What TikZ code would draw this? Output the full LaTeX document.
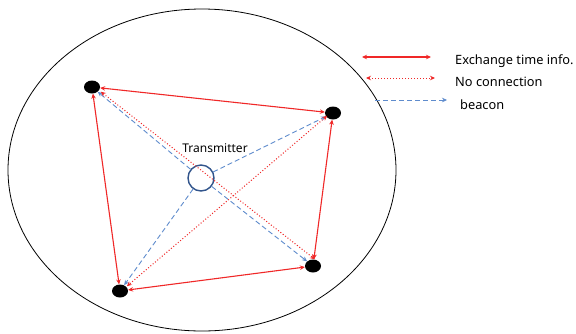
\documentclass[tikz,border=0pt]{standalone}
\usepackage{fontspec}
\setmainfont{Noto Sans}
\usetikzlibrary{shapes.geometric,arrows.meta}
\definecolor{lred}{RGB}{240,40,40}
\definecolor{lblue}{RGB}{95,140,205}
\definecolor{dblue}{RGB}{50,85,140}
\tikzset{
  dot/.style={ellipse,fill=black,minimum width=16pt,minimum height=13pt,inner sep=0pt},
  exch/.style={draw=lred,line width=1.1pt,{Stealth[length=5pt,width=4.5pt]}-{Stealth[length=5pt,width=4.5pt]}},
  nocon/.style={draw=lred,line width=1pt,dotted,{Stealth[length=5pt,width=4.5pt]}-{Stealth[length=5pt,width=4.5pt]}},
  beacon/.style={draw=lblue,line width=0.9pt,dash pattern=on 5pt off 3pt,-{Stealth[length=5pt,width=4.5pt]}},
  lbl/.style={font=\fontsize{12.8}{15}\selectfont,anchor=west,inner sep=0pt}
}
\begin{document}
\begin{tikzpicture}[x=1pt,y=-1pt]
\useasboundingbox (0,0) rectangle (576,333);
\fill[white] (0,0) rectangle (576,333);
\begin{scope}
\clip (0,0) rectangle (576,333);
\draw[line width=0.8pt] (202,170) ellipse [x radius=194, y radius=161];
\end{scope}
\node[dot] (A) at (92,87) {};
\node[dot] (B) at (333,113) {};
\node[dot] (C) at (313,266) {};
\node[dot] (D) at (120,291) {};
\node[circle,draw=dblue,line width=1.4pt,minimum size=26pt,inner sep=0pt] (T) at (201,178) {};
\node[inner sep=0pt,font=\fontsize{12}{14}\selectfont] (TL) at (215,148) {Transmitter};
% beacons
\draw[beacon] (T) -- (A);
\draw[beacon] (T) -- (B);
\draw[beacon] (T) -- (C);
\draw[beacon] (T) -- (D);
% no connection
\draw[nocon] ([xshift=3pt]A.south east) -- ([xshift=2pt]C.north);
\draw[nocon] ([yshift=2pt]B.south west) -- ([xshift=1pt]D.north east);
% exchange
\draw[exch] (A) -- (B);
\draw[exch] (B) -- (C);
\draw[exch] (C) -- (D);
\draw[exch] (D) -- (A);
% legend
\coordinate (l1a) at (362,57); \coordinate (l1b) at (431,57);
\coordinate (l2a) at (366,78); \coordinate (l2b) at (435,78);
\coordinate (l3a) at (375,100); \coordinate (l3b) at (447,100);
\draw[exch] (l1a) -- (l1b);
\draw[nocon] (l2a) -- (l2b);
\draw[beacon,line width=0.6pt] (l3a) -- (l3b);
\node[lbl] (t1) at (455,61) {Exchange time info.};
\node[lbl] (t2) at (455,82) {No connection};
\node[lbl] (t3) at (460,105) {beacon};
\end{tikzpicture}
\end{document}
